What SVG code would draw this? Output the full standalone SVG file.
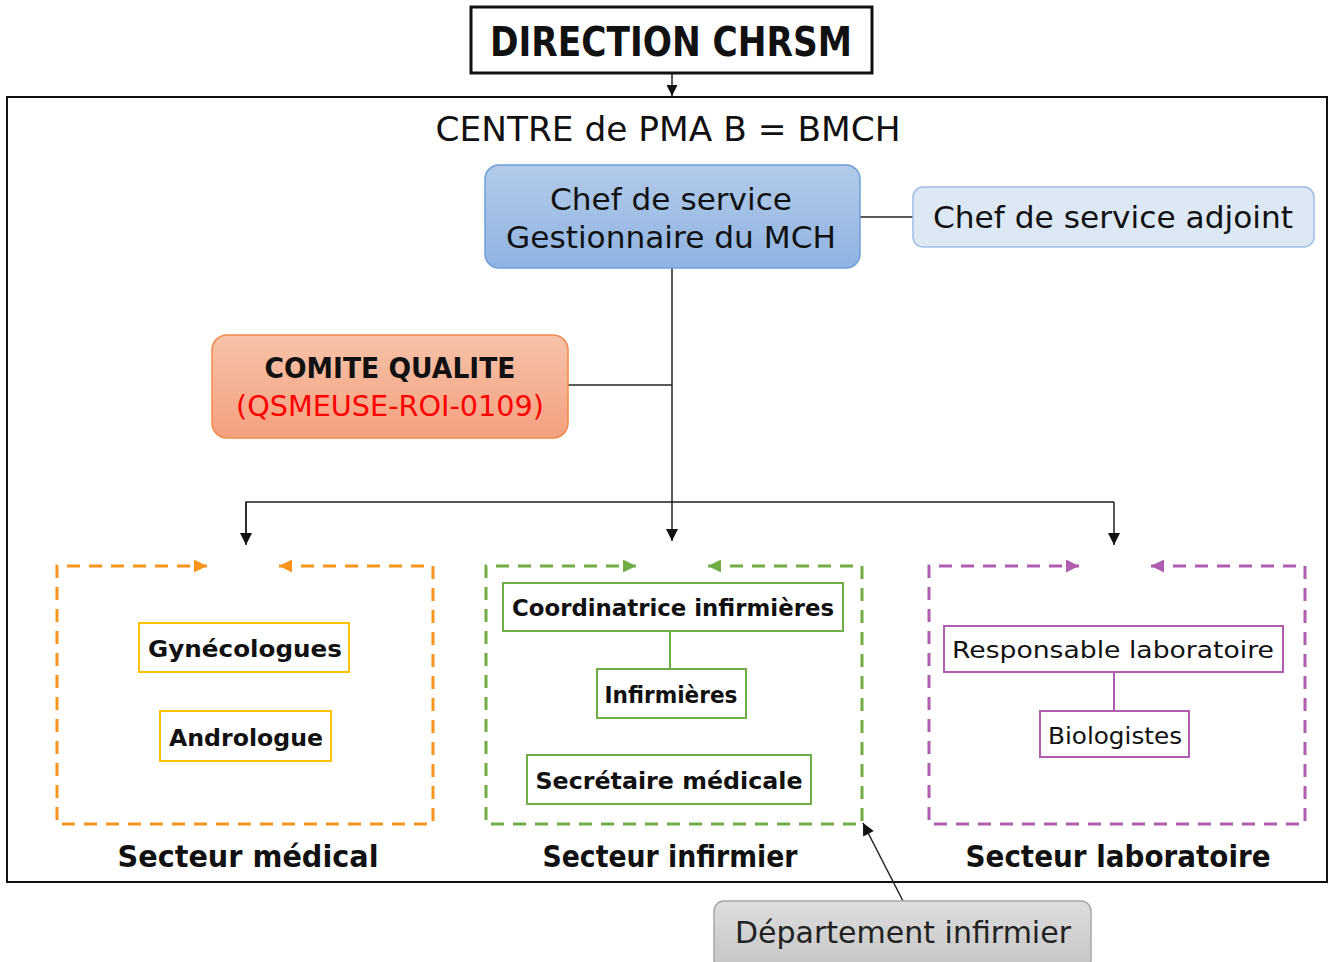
<svg xmlns="http://www.w3.org/2000/svg" width="1328" height="962" viewBox="0 0 1328 962">
<style>
text{font-family:"DejaVu Sans","Liberation Sans",sans-serif;fill:#111;text-anchor:middle}
.b{font-weight:bold}
.conn{stroke:#222;stroke-width:1.5;fill:none}
.dash{fill:none;stroke-width:3;stroke-dasharray:13 9}
.inner{fill:#fff;stroke-width:2}
</style>
<defs>
<linearGradient id="gBlue" x1="0" y1="0" x2="0" y2="1"><stop offset="0" stop-color="#b3cbea"/><stop offset="1" stop-color="#8fb3e2"/></linearGradient>
<linearGradient id="gOrange" x1="0" y1="0" x2="0" y2="1"><stop offset="0" stop-color="#f7c3a9"/><stop offset="1" stop-color="#f4a07f"/></linearGradient>
<linearGradient id="gGrey" x1="0" y1="0" x2="0" y2="1"><stop offset="0" stop-color="#dedede"/><stop offset="1" stop-color="#c4c4c4"/></linearGradient>
<marker id="ah" viewBox="0 0 10 10" refX="10" refY="5" markerWidth="12" markerHeight="11" markerUnits="userSpaceOnUse" orient="auto"><path d="M0,0L10,5L0,10z" fill="#111"/></marker>
<marker id="ahBig" viewBox="0 0 10 10" refX="10" refY="5" markerWidth="13" markerHeight="12" markerUnits="userSpaceOnUse" orient="auto"><path d="M0,0L10,5L0,10z" fill="#111"/></marker>
<marker id="aO" viewBox="0 0 10 10" refX="10" refY="5" markerWidth="13" markerHeight="13" markerUnits="userSpaceOnUse" orient="auto-start-reverse"><path d="M0,0L10,5L0,10z" fill="#f7941d"/></marker>
<marker id="aG" viewBox="0 0 10 10" refX="10" refY="5" markerWidth="13" markerHeight="13" markerUnits="userSpaceOnUse" orient="auto-start-reverse"><path d="M0,0L10,5L0,10z" fill="#70ad47"/></marker>
<marker id="aP" viewBox="0 0 10 10" refX="10" refY="5" markerWidth="13" markerHeight="13" markerUnits="userSpaceOnUse" orient="auto-start-reverse"><path d="M0,0L10,5L0,10z" fill="#b05cb0"/></marker>
</defs>
<rect width="1328" height="962" fill="#fff"/>

<g id="centre">
<rect x="7" y="97" width="1320" height="785" fill="none" stroke="#111" stroke-width="2"/>
<text x="668" y="141" font-size="34" textLength="465" lengthAdjust="spacingAndGlyphs">CENTRE de PMA B = BMCH</text>
</g>

<g id="connectors">
<line class="conn" x1="672" y1="73" x2="672" y2="96" marker-end="url(#ah)"/>
<line class="conn" x1="860" y1="217" x2="913" y2="217"/>
<line class="conn" x1="672" y1="268" x2="672" y2="541" marker-end="url(#ahBig)"/>
<line class="conn" x1="563" y1="385" x2="672" y2="385"/>
<polyline class="conn" points="246,541 246,502 1114,502"/>
<line class="conn" x1="246" y1="502" x2="246" y2="545" marker-end="url(#ahBig)"/>
<line class="conn" x1="1114" y1="502" x2="1114" y2="545" marker-end="url(#ahBig)"/>
<line class="conn" x1="903" y1="901" x2="863" y2="823" marker-end="url(#ahBig)"/>
<line stroke="#70ad47" stroke-width="2" x1="670" y1="631" x2="670" y2="669"/>
<line stroke="#b05cb0" stroke-width="2" x1="1114" y1="672" x2="1114" y2="711"/>
</g>

<g id="direction">
<rect x="471" y="7" width="401" height="66" fill="#fff" stroke="#111" stroke-width="3"/>
<text class="b" x="671" y="56" font-size="40" textLength="362" lengthAdjust="spacingAndGlyphs">DIRECTION CHRSM</text>
</g>

<g id="chef">
<rect x="485" y="165" width="375" height="103" rx="14" fill="url(#gBlue)" stroke="#6f9fd8" stroke-width="1.5"/>
<text x="671" y="210" font-size="30" textLength="242" lengthAdjust="spacingAndGlyphs">Chef de service</text>
<text x="671" y="248" font-size="30" textLength="330" lengthAdjust="spacingAndGlyphs">Gestionnaire du MCH</text>
</g>

<g id="adjoint">
<rect x="913" y="187" width="401" height="60" rx="10" fill="#dde8f5" stroke="#9dbde3" stroke-width="1.5"/>
<text x="1113" y="228" font-size="30" textLength="360" lengthAdjust="spacingAndGlyphs">Chef de service adjoint</text>
</g>

<g id="comite">
<rect x="212" y="335" width="356" height="103" rx="15" fill="url(#gOrange)" stroke="#f08a4b" stroke-width="1.5"/>
<text class="b" x="390" y="378" font-size="29" textLength="251" lengthAdjust="spacingAndGlyphs">COMITE QUALITE</text>
<text x="390" y="416" font-size="29" style="fill:#ff0000" textLength="308" lengthAdjust="spacingAndGlyphs">(QSMEUSE-ROI-0109)</text>
</g>

<g id="secteur-medical">
<path class="dash" stroke="#f7941d" d="M279,566 H433 V824 H57 V566 H207" marker-start="url(#aO)" marker-end="url(#aO)"/>
<rect class="inner" x="139" y="623" width="210" height="49" stroke="#ffc000"/>
<text class="b" x="245" y="657" font-size="23" textLength="194" lengthAdjust="spacingAndGlyphs">Gynécologues</text>
<rect class="inner" x="160" y="711" width="171" height="50" stroke="#ffc000"/>
<text class="b" x="246" y="746" font-size="23" textLength="154" lengthAdjust="spacingAndGlyphs">Andrologue</text>
<text class="b" x="248" y="867" font-size="30" textLength="261" lengthAdjust="spacingAndGlyphs">Secteur médical</text>
</g>

<g id="secteur-infirmier">
<path class="dash" stroke="#70ad47" d="M708,566 H862 V824 H486 V566 H636" marker-start="url(#aG)" marker-end="url(#aG)"/>
<rect class="inner" x="503" y="583" width="340" height="48" stroke="#70ad47"/>
<text class="b" x="673" y="616" font-size="23" textLength="322" lengthAdjust="spacingAndGlyphs">Coordinatrice infirmières</text>
<rect class="inner" x="597" y="669" width="149" height="49" stroke="#70ad47"/>
<text class="b" x="671" y="703" font-size="23" textLength="133" lengthAdjust="spacingAndGlyphs">Infirmières</text>
<rect class="inner" x="527" y="755" width="284" height="49" stroke="#70ad47"/>
<text class="b" x="669" y="789" font-size="23" textLength="267" lengthAdjust="spacingAndGlyphs">Secrétaire médicale</text>
<text class="b" x="670" y="867" font-size="30" textLength="255" lengthAdjust="spacingAndGlyphs">Secteur infirmier</text>
</g>

<g id="secteur-laboratoire">
<path class="dash" stroke="#b05cb0" d="M1151,566 H1305 V824 H929 V566 H1079" marker-start="url(#aP)" marker-end="url(#aP)"/>
<rect class="inner" x="944" y="626" width="339" height="46" stroke="#b05cb0"/>
<text x="1113" y="658" font-size="23" textLength="322" lengthAdjust="spacingAndGlyphs">Responsable laboratoire</text>
<rect class="inner" x="1040" y="711" width="149" height="46" stroke="#b05cb0"/>
<text x="1115" y="744" font-size="23" textLength="134" lengthAdjust="spacingAndGlyphs">Biologistes</text>
<text class="b" x="1118" y="867" font-size="30" textLength="305" lengthAdjust="spacingAndGlyphs">Secteur laboratoire</text>
</g>

<g id="departement">
<rect x="714" y="901" width="377" height="70" rx="10" fill="url(#gGrey)" stroke="#a8a8a8" stroke-width="1.5"/>
<text x="903" y="943" font-size="30" style="fill:#222" textLength="336" lengthAdjust="spacingAndGlyphs">Département infirmier</text>
</g>
</svg>
